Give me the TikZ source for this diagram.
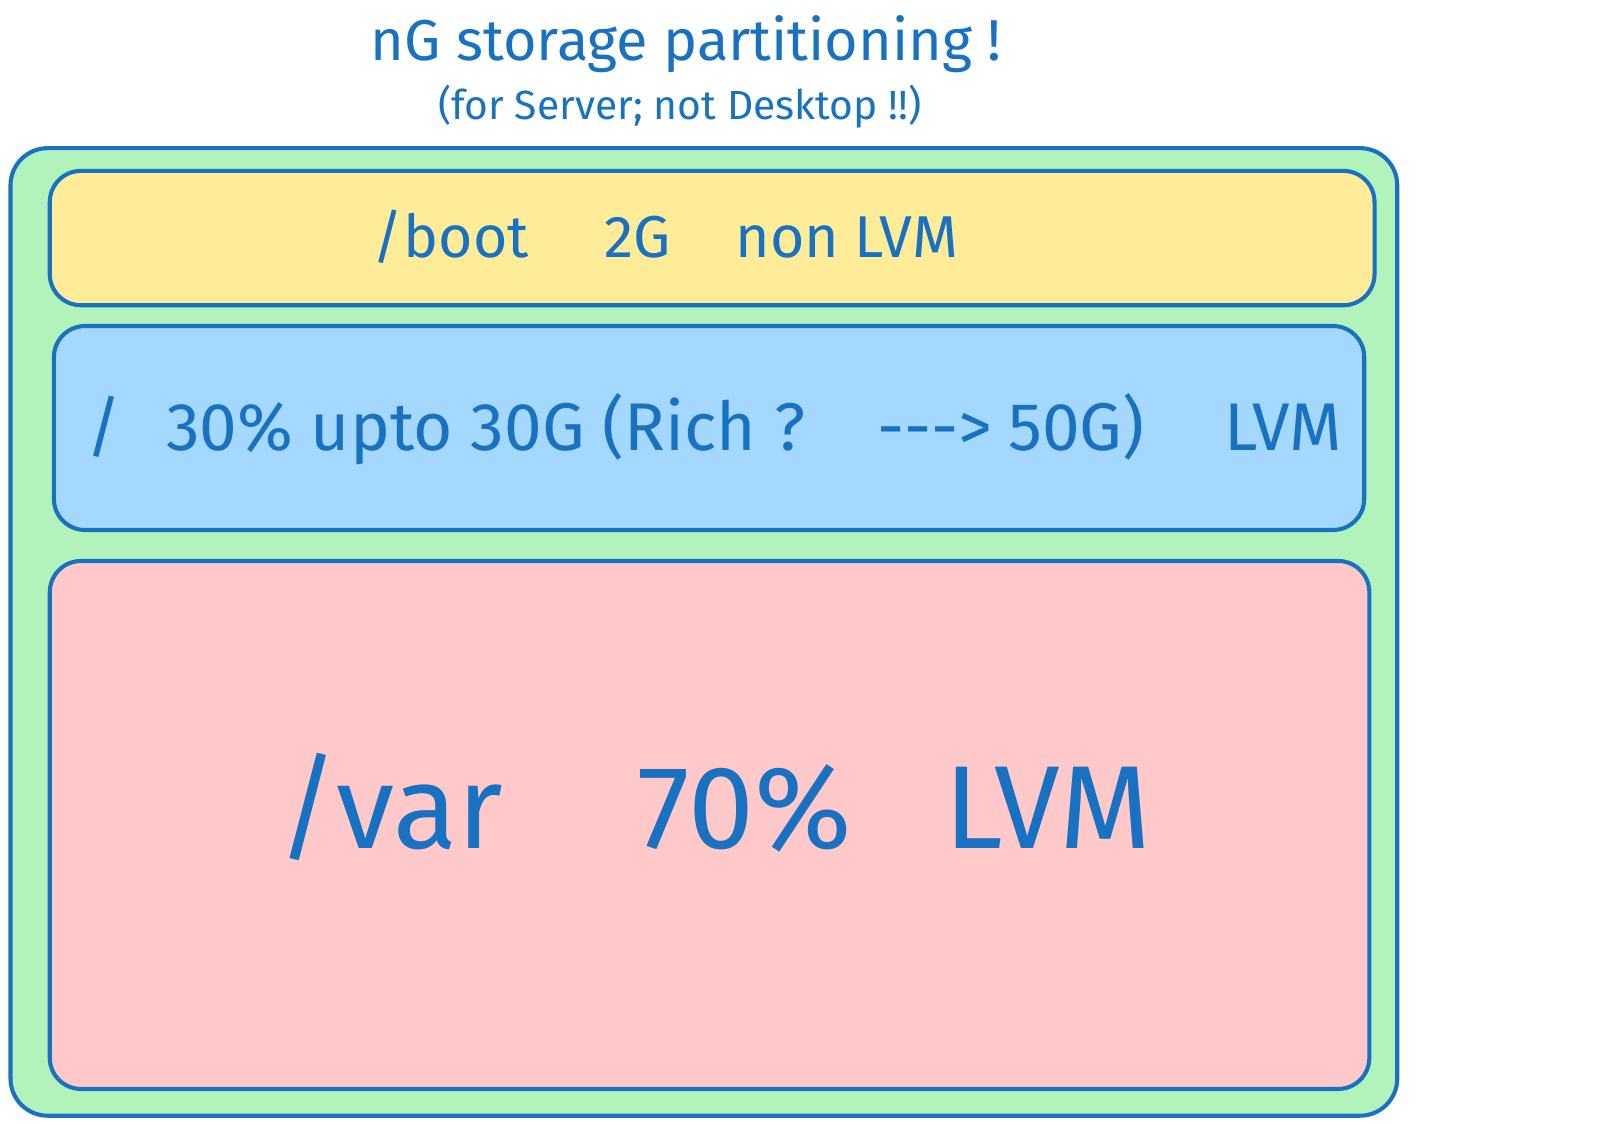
\documentclass[tikz,border=0pt]{standalone}
\usepackage{fontspec}
\setmainfont{Fira Sans}
\usepackage{tikz}
\definecolor{ink}{HTML}{1971C2}
\definecolor{diskgreen}{HTML}{B2F2BB}
\definecolor{bootyellow}{HTML}{FFEC99}
\definecolor{rootblue}{HTML}{A5D8FF}
\definecolor{varred}{HTML}{FFC9C9}
\tikzset{
  part/.style={draw=ink, line width=2.9pt, rounded corners=0.78cm, inner sep=0pt},
  lbl/.style={text=ink, inner sep=0pt, anchor=base west}
}

\begin{document}
\begin{tikzpicture}[x=0.025875cm, y=-0.025875cm]
		\useasboundingbox (0,0) rectangle (1567,1085);
		% whole disk
		\node[part, fill=diskgreen, rounded corners=0.93cm, minimum width=34.67cm, minimum height=24.19cm] (disk) at (680,610.5) {};
		% partitions
		\node[part, fill=bootyellow, minimum width=33.12cm, minimum height=3.36cm] (boot) at (688,230) {};
		\node[part, fill=rootblue, minimum width=32.76cm, minimum height=5.10cm] (root) at (685,413.5) {};
		\node[part, fill=varred, minimum width=32.99cm, minimum height=13.2cm] (var) at (685.5,797) {};
		% labels
		\node[lbl, font=\fontsize{41}{45}\selectfont] (title) at (358,58) {nG storage partitioning !};
		\node[lbl, font=\fontsize{29}{33}\selectfont] (sub) at (423,115) {(for Server; not Desktop !!)};
		\node[lbl, font=\fontsize{42}{46}\selectfont] (bootlbl) at (360,249) {/boot\hspace{1.9cm}2G\hspace{1.62cm}non LVM};
		\node[lbl, font=\fontsize{48}{52}\selectfont] (rootlbl) at (83,435) {/\hspace{1.12cm}30\% upto 30G (Rich ?\hspace{1.8cm}-{}-{}->\hspace{0.4cm}50G)\hspace{2.0cm}LVM};
		\node[lbl, font=\fontsize{84}{90}\selectfont] (varlbl) at (268,820) {/var\hspace{3.36cm}70\%\hspace{2.33cm}LVM};
		\end{tikzpicture}
\end{document}
